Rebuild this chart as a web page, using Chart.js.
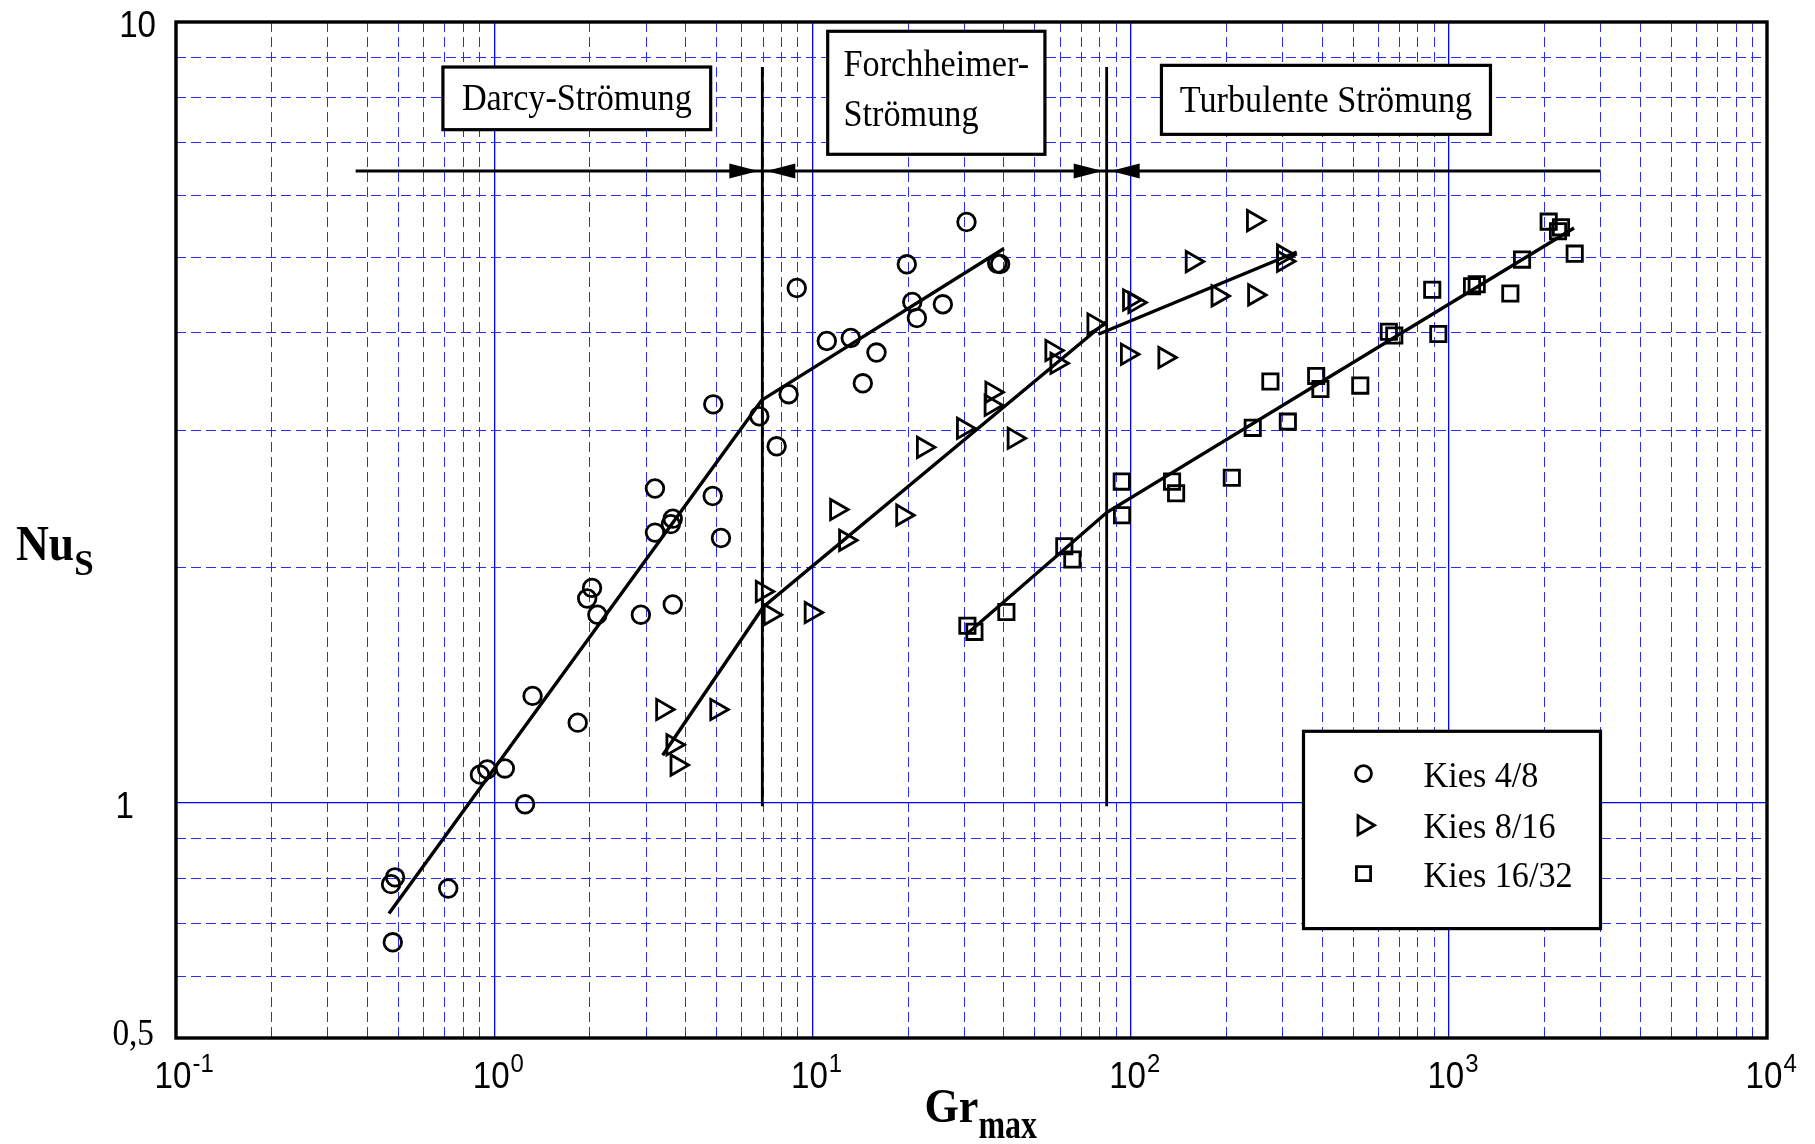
<!DOCTYPE html>
<html>
<head>
<meta charset="utf-8">
<title>Nu_S über Gr_max</title>
<script src="https://cdn.jsdelivr.net/npm/chart.js@4.4.1/dist/chart.umd.min.js"></script>
<style>
  html, body { margin: 0; padding: 0; background: #fff; }
  #wrap { width: 1815px; height: 1144px; }
</style>
</head>
<body>
<div id="wrap"><canvas id="nuChart" width="1815" height="1144"></canvas></div>
<script>
// measured points, Gr_max / Nu_S per gravel fraction
var kies48Gr = [0.48, 0.474, 0.488, 0.717, 0.902, 0.951, 1.08, 1.25, 1.32, 1.83, 1.96, 2.03, 2.11, 2.89,
  3.20, 3.20, 3.64, 3.64, 3.59, 4.86, 5.16, 4.88, 6.81, 7.72, 8.42, 8.93, 11.1, 13.2, 14.4, 15.9,
  19.8, 20.6, 21.3, 25.7, 30.5, 38.1, 38.9];
var kies48Nu = [0.663, 0.787, 0.803, 0.777, 1.087, 1.104, 1.107, 0.996, 1.371, 1.267, 1.827, 1.885, 1.742, 1.742,
  2.219, 2.527, 1.795, 2.312, 2.275, 2.472, 2.184, 3.239, 3.127, 2.862, 3.337, 4.564, 3.904, 3.939, 3.446, 3.773,
  4.895, 4.38, 4.178, 4.35, 5.545, 4.906, 4.90];

var kies816Gr = [3.38, 5.00, 3.64, 3.75, 6.95, 7.36, 9.90, 11.9, 12.7, 19.2, 22.3, 29.8, 43.0, 36.6,
  36.4, 56.5, 58.6, 76.6, 99.1, 103, 97.6, 128, 156, 188, 245, 243, 302, 302];
var kies816Nu = [1.317, 1.317, 1.187, 1.118, 1.865, 1.742, 1.753, 2.375, 2.169, 2.336, 2.853, 3.018, 2.931, 3.357,
  3.23, 3.796, 3.656, 4.105, 4.406, 4.373, 3.754, 3.718, 4.934, 4.459, 4.472, 5.568, 5.03, 4.938];

var kies1632Gr = [30.7, 32.3, 40.7, 61.9, 65.6, 93.8, 94.0, 135, 139, 208, 242, 312, 275, 383,
  395, 527, 648, 674, 927, 887, 1183, 1224, 1561, 1699, 2060, 2252, 2204, 2487];
var kies1632Nu = [1.686, 1.656, 1.756, 2.132, 2.05, 2.579, 2.336, 2.579, 2.492, 2.609, 3.022, 3.078, 3.464, 3.521,
  3.389, 3.423, 4.011, 3.968, 3.986, 4.54, 4.587, 4.614, 4.49, 4.963, 5.551, 5.458, 5.395, 5.051];

// regression lines (piecewise, break at the regime limits)
var fit48Gr = [0.467, 6.93, 40.0];
var fit48Nu = [0.722, 3.279, 5.128];
var fit816Gr = [3.384, 7.01, 83.7];
var fit816Nu = [1.151, 1.782, 4.129];
var fit816TurbGr = [79.2, 332.7];
var fit816TurbNu = [3.983, 5.076];
var fit1632Gr = [30.5, 84.3, 2475];
var fit1632Nu = [1.644, 2.356, 5.447];

// regime limits Darcy | Forchheimer | turbulent
var regimeBounds = [6.96, 84.1];
var boundNu = [0.99, 8.76];
var arrowGr = [0.367, 3000];
var arrowNu = 6.446;
var regimeNames = [['Darcy-Strömung'], ['Forchheimer-', 'Strömung'], ['Turbulente Strömung']];

// axes
var xDecades = [0.1, 1, 10, 100, 1000];
var yDecades = [0.1, 1];
var gridSteps = [1, 2, 3, 4, 5, 6, 7, 8, 9];
var xLabelValues = [0.1, 1, 10, 100, 1000, 10000];
var xLabelExps = ['-1', '0', '1', '2', '3', '4'];
var yLabelValues = [0.5, 1, 10];
var yLabelTexts = ['0,5', '1', '10'];

// text boxes, corners given in data units
var regimeBoxes = [
  { x: [0.690, 4.79], y: [8.757, 7.28] },
  { x: [11.17, 53.8], y: [9.73, 6.77] },
  { x: [125.0, 1352], y: [8.80, 7.18] }
];

var SERIF = '"Liberation Serif", "Times New Roman", serif';
var SANS = '"Liberation Sans", Arial, sans-serif';

function pts(xs, ys) {
  return xs.map(function (x, i) { return { x: x, y: ys[i] }; });
}

function gridTicks(decades, min, max) {
  var out = [];
  decades.forEach(function (d) {
    gridSteps.forEach(function (m) {
      var v = m * d;
      if (v >= min - 1e-9 && v <= max + 1e-9) out.push(v);
    });
  });
  if (out.indexOf(max) < 0) out.push(max);
  return out;
}

function isDecade(v) {
  if (!v) return false;
  var l = Math.log10(v);
  return Math.abs(l - Math.round(l)) < 1e-6;
}

// text with horizontal squeeze, returns drawn width
function squeezeText(ctx, txt, x, y, font, sx, align) {
  ctx.save();
  ctx.font = font;
  var w = ctx.measureText(txt).width * sx;
  var x0 = align === 'center' ? x - w / 2 : (align === 'right' ? x - w : x);
  ctx.translate(x0, y);
  ctx.scale(sx, 1);
  ctx.textAlign = 'left';
  ctx.textBaseline = 'alphabetic';
  ctx.fillStyle = '#000';
  ctx.fillText(txt, 0, 0);
  ctx.restore();
  return w;
}

function arrowHead(ctx, tipX, y, dir) {
  ctx.beginPath();
  ctx.moveTo(tipX, y);
  ctx.lineTo(tipX - dir * 29, y - 7.5);
  ctx.lineTo(tipX - dir * 29, y + 7.5);
  ctx.closePath();
  ctx.fillStyle = '#000';
  ctx.fill();
}

function drawMarker(ctx, style, rot, r, x, y) {
  ctx.save();
  ctx.strokeStyle = '#000';
  ctx.fillStyle = 'rgba(0,0,0,0)';
  ctx.lineWidth = 2.8;
  if (Chart.helpers && Chart.helpers.drawPoint) {
    Chart.helpers.drawPoint(ctx, { pointStyle: style, rotation: rot, radius: r, borderWidth: 2.8 }, x, y);
  } else {
    ctx.beginPath();
    ctx.arc(x, y, r, 0, Math.PI * 2);
    ctx.stroke();
  }
  ctx.restore();
}

var decorations = {
  id: 'decorations',
  afterDatasetsDraw: function (chart) {
    var ctx = chart.ctx, xs = chart.scales.x, ys = chart.scales.y, area = chart.chartArea;

    // arrow heads meeting the regime limits
    var ay = ys.getPixelForValue(arrowNu);
    regimeBounds.forEach(function (b) {
      var bx = xs.getPixelForValue(b);
      arrowHead(ctx, bx - 4, ay, 1);
      arrowHead(ctx, bx + 4, ay, -1);
    });

    // regime boxes
    regimeBoxes.forEach(function (box, i) {
      var x1 = xs.getPixelForValue(box.x[0]), x2 = xs.getPixelForValue(box.x[1]);
      var y1 = ys.getPixelForValue(box.y[0]), y2 = ys.getPixelForValue(box.y[1]);
      ctx.save();
      ctx.fillStyle = '#fff';
      ctx.fillRect(x1, y1, x2 - x1, y2 - y1);
      ctx.lineWidth = 3.2;
      ctx.strokeStyle = '#000';
      ctx.strokeRect(x1, y1, x2 - x1, y2 - y1);
      ctx.restore();
      var lines = regimeNames[i];
      var font = '38px ' + SERIF, sx = 0.9;
      ctx.font = font;
      var widest = Math.max.apply(null, lines.map(function (l) { return ctx.measureText(l).width * sx; }));
      var cx = (x1 + x2) / 2, cy = (y1 + y2) / 2;
      var left = cx - widest / 2;
      lines.forEach(function (l, k) {
        var base = cy + 12 + (k - (lines.length - 1) / 2) * 50 - (lines.length > 1 ? 4 : 0);
        squeezeText(ctx, l, left, base, font, sx, 'left');
      });
    });

    // legend
    var lx = area.right - 463.5, ly = area.top + 709.3, lw = 297, lh = 197.3;
    ctx.save();
    ctx.fillStyle = '#fff';
    ctx.fillRect(lx, ly, lw, lh);
    ctx.lineWidth = 3.2;
    ctx.strokeStyle = '#000';
    ctx.strokeRect(lx, ly, lw, lh);
    ctx.restore();
    var rows = [42.3, 94, 142.3];
    chart.data.datasets.slice(0, 3).forEach(function (ds, i) {
      var ry = ly + rows[i];
      drawMarker(ctx, ds.pointStyle, ds.pointRotation || 0, ds.legendRadius, lx + 60, ry);
      squeezeText(ctx, ds.label, lx + 120, ry + 13, '36px ' + SERIF, 0.95, 'left');
    });
  },
  afterDraw: function (chart) {
    var ctx = chart.ctx, xs = chart.scales.x, ys = chart.scales.y, area = chart.chartArea;

    // plot frame
    ctx.save();
    ctx.lineWidth = 3.4;
    ctx.strokeStyle = '#000';
    ctx.strokeRect(area.left, area.top, area.right - area.left, area.bottom - area.top);
    ctx.restore();

    // x tick labels 10^n
    xLabelValues.forEach(function (v, i) {
      var px = xs.getPixelForValue(v) - 3;
      var w = squeezeText(ctx, '10', px, area.bottom + 50, '36px ' + SANS, 0.92, 'center');
      squeezeText(ctx, xLabelExps[i], px + w / 2 + 1, area.bottom + 34, '26px ' + SANS, 0.92, 'left');
    });

    // y tick labels
    yLabelValues.forEach(function (v, i) {
      var py = ys.getPixelForValue(v);
      var t = yLabelTexts[i];
      if (t === '0,5') {
        squeezeText(ctx, t, area.left - 22, py + 7, '37px ' + SERIF, 0.9, 'right');
      } else if (t === '1') {
        squeezeText(ctx, t, area.left - 42, py + 15, '36px ' + SANS, 0.92, 'right');
      } else {
        squeezeText(ctx, t, area.left - 20, py + 15, '36px ' + SANS, 0.92, 'right');
      }
    });

    // axis titles
    var midY = (area.top + area.bottom) / 2;
    var wNu = squeezeText(ctx, 'Nu', area.left - 160, midY + 30, 'bold 50px ' + SERIF, 0.91, 'left');
    squeezeText(ctx, 'S', area.left - 160 + wNu, midY + 45, 'bold 35px ' + SERIF, 1, 'left');
    var midX = (area.left + area.right) / 2;
    var wGr = squeezeText(ctx, 'Gr', midX - 47, area.bottom + 84, 'bold 48px ' + SERIF, 0.92, 'left');
    squeezeText(ctx, 'max', midX - 47 + wGr, area.bottom + 100, 'bold 40px ' + SERIF, 0.8, 'left');
  }
};

var xGrid = gridTicks(xDecades, 0.1, 10000);
var yGrid = gridTicks(yDecades, 0.5, 10);

var markerOpts = {
  showLine: false,
  backgroundColor: 'rgba(0,0,0,0)',
  borderColor: '#000',
  pointBackgroundColor: 'rgba(0,0,0,0)',
  pointBorderColor: '#000',
  pointBorderWidth: 2.8
};
var lineOpts = {
  showLine: true,
  pointRadius: 0,
  borderColor: '#000',
  borderWidth: 3.4,
  fill: false
};

function scaleOpts(min, max, grid) {
  return {
    type: 'logarithmic',
    min: min,
    max: max,
    afterBuildTicks: function (scale) {
      scale.ticks = grid.map(function (v) { return { value: v }; });
    },
    ticks: { display: false },
    grid: {
      drawTicks: false,
      color: function (c) { return c.tick && isDecade(c.tick.value) ? '#0000ff' : '#2b2bff'; },
      lineWidth: function (c) { return c.tick && isDecade(c.tick.value) ? 1.3 : 1; }
    },
    border: {
      display: false,
      dash: function (c) { return c.tick && !isDecade(c.tick.value) ? [10, 5] : []; }
    }
  };
}

new Chart(document.getElementById('nuChart').getContext('2d'), {
  type: 'scatter',
  data: {
    datasets: [
      Object.assign({ label: 'Kies 4/8', data: pts(kies48Gr, kies48Nu), pointStyle: 'circle', pointRadius: 8.8, legendRadius: 8 }, markerOpts),
      Object.assign({ label: 'Kies 8/16', data: pts(kies816Gr, kies816Nu), pointStyle: 'triangle', pointRotation: 90, pointRadius: 11.7, legendRadius: 11 }, markerOpts),
      Object.assign({ label: 'Kies 16/32', data: pts(kies1632Gr, kies1632Nu), pointStyle: 'rect', pointRadius: 10.8, legendRadius: 10 }, markerOpts),
      Object.assign({ label: 'fit 4/8', data: pts(fit48Gr, fit48Nu) }, lineOpts),
      Object.assign({ label: 'fit 8/16', data: pts(fit816Gr, fit816Nu) }, lineOpts),
      Object.assign({ label: 'fit 8/16 turb', data: pts(fit816TurbGr, fit816TurbNu) }, lineOpts),
      Object.assign({ label: 'fit 16/32', data: pts(fit1632Gr, fit1632Nu) }, lineOpts),
      Object.assign({ label: 'Grenze 1', data: [{ x: regimeBounds[0], y: boundNu[0] }, { x: regimeBounds[0], y: boundNu[1] }] }, lineOpts, { borderWidth: 2.8 }),
      Object.assign({ label: 'Grenze 2', data: [{ x: regimeBounds[1], y: boundNu[0] }, { x: regimeBounds[1], y: boundNu[1] }] }, lineOpts, { borderWidth: 2.8 }),
      Object.assign({ label: 'Bereiche', data: [{ x: arrowGr[0], y: arrowNu }, { x: arrowGr[1], y: arrowNu }] }, lineOpts, { borderWidth: 3 })
    ]
  },
  options: {
    responsive: false,
    animation: false,
    layout: { padding: { left: 176, right: 48, top: 22, bottom: 106 } },
    plugins: { legend: { display: false }, tooltip: { enabled: false } },
    scales: {
      x: scaleOpts(0.1, 10000, xGrid),
      y: scaleOpts(0.5, 10, yGrid)
    }
  },
  plugins: [decorations]
});
</script>
</body>
</html>
